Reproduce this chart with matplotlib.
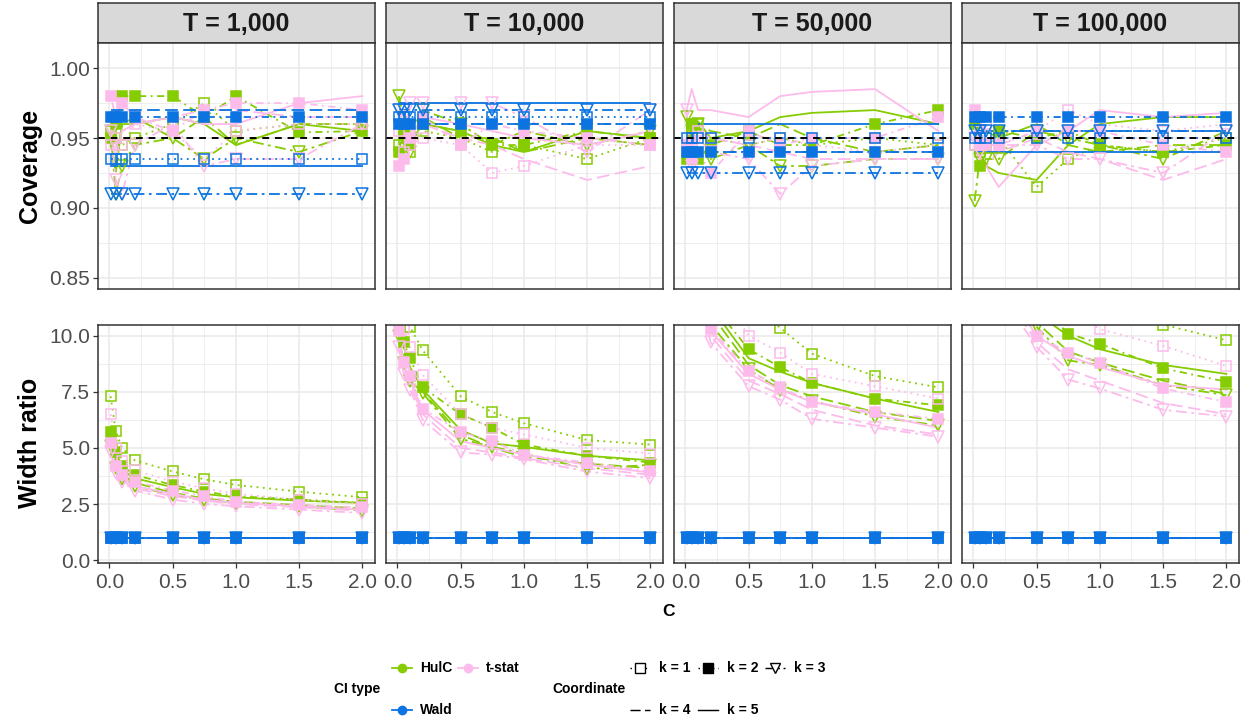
import numpy as np
import matplotlib.pyplot as plt
from matplotlib.lines import Line2D

plt.rcParams['font.family'] = ['Liberation Sans', 'DejaVu Sans']

# C values on the x axis
c_vals = [0.01, 0.05, 0.1, 0.2, 0.5, 0.75, 1.0, 1.5, 2.0]
t_labels = ['T = 1,000', 'T = 10,000', 'T = 50,000', 'T = 100,000']
ci_types = ['HulC', 't-stat', 'Wald']
coord_labels = ['k = 1', 'k = 2', 'k = 3', 'k = 4', 'k = 5']

# coverage, one row per coordinate k = 1..5
cov_hulc_t1k = [[0.955, 0.950, 0.945, 0.950, 0.960, 0.975, 0.955, 0.960, 0.960],
                [0.950, 0.960, 0.980, 0.980, 0.980, 0.965, 0.980, 0.954, 0.955],
                [0.955, 0.910, 0.930, 0.945, 0.950, 0.935, 0.950, 0.940, 0.955],
                [0.950, 0.925, 0.960, 0.965, 0.950, 0.965, 0.945, 0.960, 0.960],
                [0.945, 0.930, 0.960, 0.960, 0.965, 0.960, 0.945, 0.960, 0.955]]
cov_tstat_t1k = [[0.945, 0.950, 0.945, 0.960, 0.955, 0.935, 0.955, 0.960, 0.960],
                 [0.980, 0.965, 0.975, 0.965, 0.955, 0.970, 0.975, 0.975, 0.970],
                 [0.955, 0.920, 0.910, 0.945, 0.960, 0.930, 0.935, 0.935, 0.960],
                 [0.960, 0.935, 0.955, 0.960, 0.965, 0.970, 0.970, 0.965, 0.965],
                 [0.955, 0.965, 0.955, 0.960, 0.965, 0.960, 0.960, 0.975, 0.980]]
cov_hulc_t10k = [[0.945, 0.950, 0.940, 0.955, 0.950, 0.940, 0.945, 0.935, 0.950],
                 [0.940, 0.955, 0.945, 0.960, 0.955, 0.945, 0.945, 0.955, 0.950],
                 [0.980, 0.965, 0.940, 0.970, 0.960, 0.945, 0.955, 0.945, 0.955],
                 [0.955, 0.945, 0.960, 0.965, 0.950, 0.950, 0.940, 0.950, 0.945],
                 [0.960, 0.950, 0.955, 0.960, 0.955, 0.945, 0.940, 0.955, 0.950]]
cov_tstat_t10k = [[0.955, 0.940, 0.945, 0.950, 0.945, 0.925, 0.930, 0.945, 0.945],
                  [0.930, 0.935, 0.950, 0.965, 0.945, 0.960, 0.955, 0.950, 0.945],
                  [0.970, 0.965, 0.975, 0.975, 0.975, 0.975, 0.965, 0.940, 0.970],
                  [0.965, 0.960, 0.955, 0.960, 0.950, 0.945, 0.935, 0.920, 0.930],
                  [0.960, 0.955, 0.950, 0.965, 0.960, 0.955, 0.950, 0.945, 0.955]]
cov_hulc_t50k = [[0.945, 0.955, 0.960, 0.950, 0.945, 0.950, 0.945, 0.950, 0.945],
                 [0.935, 0.960, 0.935, 0.945, 0.955, 0.945, 0.945, 0.960, 0.970],
                 [0.965, 0.955, 0.960, 0.935, 0.945, 0.930, 0.930, 0.935, 0.935],
                 [0.955, 0.950, 0.960, 0.955, 0.950, 0.960, 0.950, 0.940, 0.945],
                 [0.960, 0.955, 0.962, 0.950, 0.955, 0.965, 0.968, 0.970, 0.960]]
cov_tstat_t50k = [[0.945, 0.945, 0.955, 0.950, 0.945, 0.950, 0.945, 0.940, 0.945],
                  [0.945, 0.935, 0.940, 0.925, 0.955, 0.945, 0.950, 0.950, 0.965],
                  [0.970, 0.930, 0.950, 0.940, 0.935, 0.910, 0.930, 0.935, 0.935],
                  [0.950, 0.940, 0.955, 0.950, 0.945, 0.940, 0.935, 0.935, 0.935],
                  [0.970, 0.985, 0.970, 0.970, 0.965, 0.980, 0.983, 0.985, 0.955]]
cov_hulc_t100k = [[0.945, 0.940, 0.945, 0.950, 0.915, 0.935, 0.945, 0.940, 0.950],
                  [0.960, 0.930, 0.945, 0.955, 0.950, 0.955, 0.945, 0.940, 0.945],
                  [0.905, 0.935, 0.935, 0.935, 0.955, 0.950, 0.945, 0.935, 0.955],
                  [0.955, 0.950, 0.955, 0.950, 0.960, 0.945, 0.940, 0.945, 0.945],
                  [0.950, 0.935, 0.930, 0.925, 0.920, 0.945, 0.960, 0.965, 0.965]]
cov_tstat_t100k = [[0.945, 0.955, 0.960, 0.945, 0.955, 0.970, 0.960, 0.955, 0.960],
                   [0.970, 0.945, 0.945, 0.945, 0.955, 0.955, 0.955, 0.945, 0.940],
                   [0.950, 0.940, 0.945, 0.945, 0.945, 0.935, 0.935, 0.925, 0.955],
                   [0.945, 0.945, 0.930, 0.940, 0.950, 0.940, 0.935, 0.920, 0.935],
                   [0.940, 0.935, 0.930, 0.915, 0.945, 0.955, 0.970, 0.965, 0.968]]
# Wald coverage does not change with C: one value per k
cov_wald_t1k = [0.935, 0.965, 0.910, 0.970, 0.930]
cov_wald_t10k = [0.965, 0.960, 0.970, 0.960, 0.975]
cov_wald_t50k = [0.950, 0.940, 0.925, 0.940, 0.960]
cov_wald_t100k = [0.950, 0.965, 0.955, 0.955, 0.940]

# width ratio (relative to Wald)
wid_hulc_t1k = [[7.3, 5.75, 5.0, 4.45, 3.95, 3.6, 3.35, 3.05, 2.8],
                [5.7, 4.8, 4.2, 3.8, 3.35, 3.05, 2.85, 2.7, 2.55],
                [5.1, 4.1, 3.6, 3.3, 2.9, 2.7, 2.55, 2.4, 2.2],
                [5.3, 4.3, 3.8, 3.45, 3.0, 2.75, 2.6, 2.45, 2.3],
                [5.5, 4.5, 4.0, 3.65, 3.25, 2.95, 2.8, 2.65, 2.55]]
wid_tstat_t1k = [[6.5, 5.0, 4.4, 4.0, 3.5, 3.2, 2.95, 2.7, 2.5],
                 [5.2, 4.2, 3.8, 3.5, 3.1, 2.85, 2.6, 2.45, 2.35],
                 [4.8, 3.9, 3.5, 3.1, 2.7, 2.5, 2.4, 2.25, 2.1],
                 [5.0, 4.0, 3.55, 3.2, 2.85, 2.65, 2.5, 2.35, 2.2],
                 [5.1, 4.1, 3.65, 3.3, 2.95, 2.7, 2.55, 2.4, 2.25]]
wid_hulc_t10k = [[13.0, 11.0, 10.4, 9.35, 7.3, 6.6, 6.1, 5.35, 5.15],
                 [11.0, 9.7, 9.0, 7.7, 6.5, 5.9, 5.15, 4.65, 4.35],
                 [10.0, 8.8, 8.0, 7.45, 5.4, 5.05, 4.75, 4.05, 4.25],
                 [10.8, 9.2, 8.3, 7.5, 5.6, 5.0, 4.6, 4.3, 4.1],
                 [11.2, 9.5, 8.6, 7.6, 5.8, 5.2, 5.05, 4.65, 4.45]]
wid_tstat_t10k = [[12.0, 10.3, 9.5, 8.25, 6.5, 5.9, 5.6, 5.0, 4.75],
                  [10.2, 8.85, 8.2, 6.75, 5.7, 5.3, 4.7, 4.35, 3.95],
                  [9.5, 8.3, 7.6, 6.25, 4.8, 4.7, 4.5, 3.95, 3.65],
                  [9.8, 8.5, 7.8, 6.5, 5.0, 4.8, 4.55, 4.1, 3.8],
                  [10.0, 8.7, 8.0, 6.7, 5.3, 5.0, 4.7, 4.25, 3.9]]
wid_hulc_t50k = [[30.0, 20.0, 17.0, 14.0, 11.5, 10.35, 9.2, 8.2, 7.7],
                 [25.0, 17.0, 14.5, 11.5, 9.4, 8.6, 7.9, 7.2, 6.9],
                 [22.0, 15.0, 13.0, 10.5, 8.5, 7.6, 7.1, 6.4, 6.0],
                 [23.0, 16.0, 13.5, 11.0, 8.7, 7.8, 7.3, 6.6, 6.2],
                 [24.0, 16.5, 14.0, 11.3, 9.0, 8.4, 7.9, 7.2, 6.6]]
wid_tstat_t50k = [[27.0, 18.0, 15.5, 12.5, 10.0, 9.25, 8.3, 7.75, 7.2],
                  [22.0, 15.0, 12.5, 10.3, 8.45, 7.7, 7.05, 6.6, 6.3],
                  [20.0, 14.0, 12.0, 9.7, 7.75, 7.15, 6.3, 5.9, 5.5],
                  [21.0, 14.5, 12.3, 10.0, 8.0, 7.4, 6.7, 6.0, 5.6],
                  [21.5, 14.8, 12.5, 10.2, 8.3, 7.6, 7.05, 6.5, 5.9]]
wid_hulc_t100k = [[40.0, 26.0, 22.0, 18.0, 14.0, 12.0, 11.0, 10.5, 9.8],
                  [34.0, 22.0, 18.5, 15.0, 11.5, 10.1, 9.65, 8.55, 7.95],
                  [30.0, 20.0, 17.0, 13.5, 10.4, 8.9, 8.7, 7.8, 7.35],
                  [31.0, 21.0, 17.5, 14.0, 10.6, 9.3, 8.8, 8.0, 7.4],
                  [33.0, 21.5, 18.0, 14.5, 11.0, 10.0, 9.4, 8.7, 8.3]]
wid_tstat_t100k = [[36.0, 24.0, 20.0, 16.0, 12.5, 11.2, 10.3, 9.55, 8.65],
                   [28.0, 19.0, 16.0, 12.5, 10.0, 9.25, 8.8, 7.65, 7.05],
                   [27.0, 18.0, 15.0, 12.0, 9.5, 8.05, 7.65, 6.7, 6.4],
                   [27.5, 18.5, 15.5, 12.3, 9.7, 8.5, 8.0, 7.0, 6.5],
                   [28.0, 19.0, 16.0, 12.6, 10.0, 9.1, 8.6, 7.8, 7.6]]
wid_wald = [1.0, 1.0, 1.0, 1.0, 1.0, 1.0, 1.0, 1.0, 1.0]

cov_hulc = [cov_hulc_t1k, cov_hulc_t10k, cov_hulc_t50k, cov_hulc_t100k]
cov_tstat = [cov_tstat_t1k, cov_tstat_t10k, cov_tstat_t50k, cov_tstat_t100k]
cov_wald = [cov_wald_t1k, cov_wald_t10k, cov_wald_t50k, cov_wald_t100k]
wid_hulc = [wid_hulc_t1k, wid_hulc_t10k, wid_hulc_t50k, wid_hulc_t100k]
wid_tstat = [wid_tstat_t1k, wid_tstat_t10k, wid_tstat_t50k, wid_tstat_t100k]

# styles
colors = {'HulC': '#85CC00', 't-stat': '#FDBBEC', 'Wald': '#0C74E0'}
dashes = [(0, (1, 2.5)), (0, (1, 2.5, 4, 2.5)), (0, (6, 2.5, 1.5, 2.5)), (0, (7, 3)), '-']
markers = [('s', False), ('s', True), ('v', False), (None, False), (None, False)]
LW = 1.3
MS = 7.5

W, H = 1252, 723


def rect(x0, y0, x1, y1):
    return [x0 / W, 1 - y1 / H, (x1 - x0) / W, (y1 - y0) / H]


def style_panel(ax, xgrid_minor, ygrid_major, ygrid_minor):
    ax.set_facecolor('white')
    for v in xgrid_minor:
        ax.axvline(v, color='#EBEBEB', lw=0.6, zorder=0)
    for v in ygrid_minor:
        ax.axhline(v, color='#EBEBEB', lw=0.6, zorder=0)
    for v in [0, 0.5, 1.0, 1.5, 2.0]:
        ax.axvline(v, color='#EBEBEB', lw=1.2, zorder=0)
    for v in ygrid_major:
        ax.axhline(v, color='#EBEBEB', lw=1.2, zorder=0)
    for s in ax.spines.values():
        s.set_color('#333333')
        s.set_linewidth(1.1)
        s.set_zorder(10)
    ax.tick_params(colors='#333333', labelcolor='#4D4D4D', labelsize=15, length=3.5, width=0.9, pad=2)
    ax.tick_params(axis='x', pad=4)


def draw_series(ax, hulc, tstat, wald_rows):
    groups = [('HulC', hulc), ('t-stat', tstat), ('Wald', wald_rows)]
    # lines first, then points (as geom_line + geom_point)
    for name, rows in groups:
        for k in range(5):
            ax.plot(c_vals, rows[k], color=colors[name], lw=LW, linestyle=dashes[k], zorder=2)
    for name, rows in groups:
        for k in range(5):
            m, filled = markers[k]
            if m is None:
                continue
            ax.plot(c_vals, rows[k], linestyle='none', marker=m, ms=MS if m == 's' else MS + 1,
                    mfc=colors[name] if filled else 'none', mec=colors[name], mew=1.1, zorder=3,
                    clip_on=True)


fig = plt.figure(figsize=(W / 100, H / 100), dpi=100)

lefts = [98, 386, 674, 962]
pw = 277
for j in range(4):
    x0 = lefts[j]
    # strip
    sax = fig.add_axes(rect(x0, 3, x0 + pw, 43))
    sax.set_facecolor('#D9D9D9')
    sax.set_xticks([])
    sax.set_yticks([])
    for s in sax.spines.values():
        s.set_color('#333333')
        s.set_linewidth(1.1)
    sax.text(0.5, 0.47, t_labels[j], ha='center', va='center', fontsize=18, fontweight='bold',
             color='#1A1A1A', transform=sax.transAxes)

    # coverage panel
    ax = fig.add_axes(rect(x0, 43, x0 + pw, 289))
    style_panel(ax, [0.25, 0.75, 1.25, 1.75], [0.85, 0.90, 0.95, 1.00], [0.875, 0.925, 0.975, 1.025])
    wald_rows = [[v] * len(c_vals) for v in cov_wald[j]]
    draw_series(ax, cov_hulc[j], cov_tstat[j], wald_rows)
    ax.axhline(0.95, color='black', lw=1.4, linestyle=(0, (3.5, 3)), zorder=4)
    ax.set_xlim(-0.09, 2.1)
    ax.set_ylim(0.842, 1.018)
    ax.set_xticks([])
    ax.set_yticks([0.85, 0.90, 0.95, 1.00])
    if j == 0:
        ax.set_yticklabels(['0.85', '0.90', '0.95', '1.00'])
    else:
        ax.set_yticklabels([])
        ax.tick_params(axis='y', length=0)

    # width ratio panel
    ax2 = fig.add_axes(rect(x0, 325, x0 + pw, 563))
    style_panel(ax2, [0.25, 0.75, 1.25, 1.75], [0, 2.5, 5.0, 7.5, 10.0], [1.25, 3.75, 6.25, 8.75])
    wald_rows = [wid_wald] * 5
    draw_series(ax2, wid_hulc[j], wid_tstat[j], wald_rows)
    ax2.set_xlim(-0.09, 2.1)
    ax2.set_ylim(-0.13, 10.48)
    ax2.set_xticks([0, 0.5, 1.0, 1.5, 2.0])
    ax2.set_xticklabels(['0.0', '0.5', '1.0', '1.5', '2.0'])
    ax2.set_yticks([0, 2.5, 5.0, 7.5, 10.0])
    if j == 0:
        ax2.set_yticklabels(['0.0', '2.5', '5.0', '7.5', '10.0'])
    else:
        ax2.set_yticklabels([])
        ax2.tick_params(axis='y', length=0)

# axis titles
fig.text(30 / W, 1 - 166 / H, 'Coverage', rotation=90, ha='center', va='center',
         fontsize=18, fontweight='bold')
fig.text(30 / W, 1 - 443 / H, 'Width ratio', rotation=90, ha='center', va='center',
         fontsize=18, fontweight='bold')
fig.text(668 / W, 1 - 612 / H, 'C', ha='center', va='center', fontsize=12.5, fontweight='bold')

# legend drawn in pixel space
lax = fig.add_axes([0, 0, 1, 1], facecolor='none')
lax.set_xlim(0, W)
lax.set_ylim(H, 0)
lax.axis('off')

FS = 10
lax.text(334, 689, 'CI type', ha='left', va='center', fontsize=FS, fontweight='bold')
ci_keys = [('HulC', 392, 668), ('t-stat', 458, 668), ('Wald', 392, 710)]
for name, kx, ky in ci_keys:
    lax.add_line(Line2D([kx, kx + 20], [ky, ky], color=colors[name], lw=LW))
    lax.add_line(Line2D([kx + 10], [ky], marker='o', ms=6, color=colors[name], lw=0))
    lax.text(kx + 28, ky, name, ha='left', va='center', fontsize=FS, fontweight='bold')

lax.text(552, 689, 'Coordinate', ha='left', va='center', fontsize=FS, fontweight='bold')
coord_keys = [(630, 668), (698, 668), (765, 668), (630, 710), (698, 710)]
for k, (kx, ky) in enumerate(coord_keys):
    lax.add_line(Line2D([kx, kx + 20], [ky, ky], color='black', lw=LW * 0.8, linestyle=dashes[k]))
    m, filled = markers[k]
    if m is not None:
        lax.add_line(Line2D([kx + 10], [ky], marker=m, ms=6.5 if m == 's' else 7.5, lw=0,
                            mfc='black' if filled else 'white', mec='black', mew=1.0))
    lax.text(kx + 29, ky, coord_labels[k], ha='left', va='center', fontsize=FS, fontweight='bold')

fig.savefig('out.png', dpi=100)
